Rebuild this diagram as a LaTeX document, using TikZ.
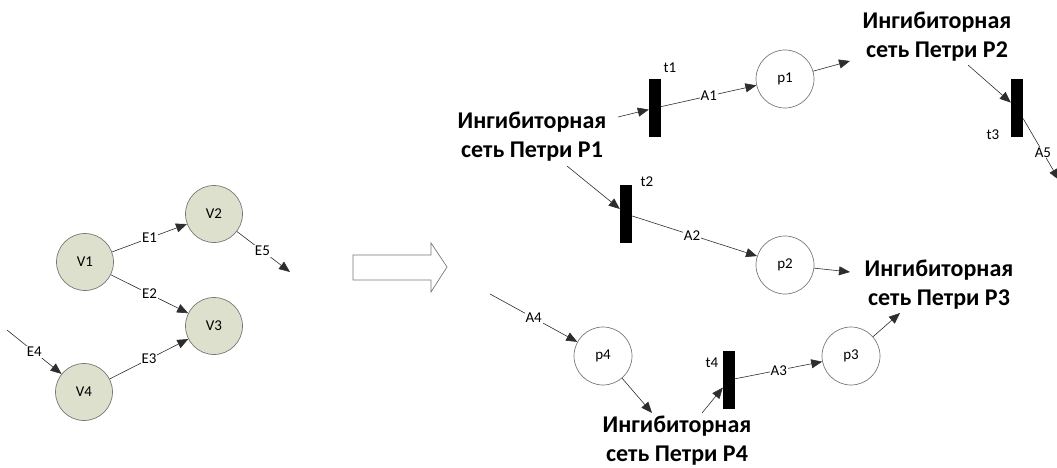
\documentclass[tikz,border=0pt]{standalone}
\usepackage{fontspec}
\setmainfont{Carlito}
\usetikzlibrary{arrows.meta}
\definecolor{vfill}{RGB}{221,224,204}
\definecolor{rim}{RGB}{120,120,120}
\definecolor{wire}{RGB}{45,45,45}
\begin{document}
\begin{tikzpicture}[x=1pt,y=-1pt,
  lbl/.style={font=\fontsize{15}{17}\selectfont},
  vertex/.style={circle,draw=rim,line width=0.7pt,fill=vfill,minimum size=57pt,inner sep=0pt,lbl},
  place/.style={circle,draw=rim,line width=0.7pt,fill=white,minimum size=58pt,inner sep=0pt,lbl},
  trans/.style={rectangle,fill=black,minimum width=12pt,minimum height=58pt,inner sep=0pt},
  net/.style={align=center,font=\bfseries\fontsize{24}{29}\selectfont},
  arc/.style={draw=wire,line width=0.6pt,-{Triangle[length=11pt,width=9pt]}},
  tag/.style={lbl,fill=white,inner sep=1pt}]
\useasboundingbox (0,0) rectangle (1057,468);

% ---- graph ----
\node[vertex] (V1) at (85,262) {V1};
\node[vertex] (V2) at (214,214) {V2};
\node[vertex] (V3) at (214,326) {V3};
\node[vertex] (V4) at (84,392) {V4};
\coordinate (e4s) at (7,330);
\coordinate (e5e) at (290,272);

\draw[arc] (V1) -- node[tag] {E1} (V2);
\draw[arc] (V1) -- node[tag] {E2} (V3);
\draw[arc] (V4) -- node[tag] {E3} (V3);
\draw[arc] (e4s) -- node[tag] {E4} (V4);
\draw[arc] (V2) -- node[tag,pos=0.48] {E5} (e5e);

% ---- transformation arrow ----
\draw[rim,line width=0.7pt,fill=white] (353,255) -- (431,255) -- (431,243) -- (447,267)
  -- (431,292) -- (431,280) -- (353,280) -- cycle;

% ---- Petri nets ----
\node[trans] (t1) at (655,108) {};
\node[trans] (t2) at (626,214) {};
\node[trans] (t3) at (1017,108) {};
\node[trans] (t4) at (729,380) {};
\node[lbl] at (670,68) {t1};
\node[lbl] at (647,182) {t2};
\node[lbl] at (993,135) {t3};
\node[lbl] at (712,363) {t4};

\node[place] (p1) at (785,79) {p1};
\node[place] (p2) at (785,265) {p2};
\node[place] (p3) at (851,356) {p3};
\node[place] (p4) at (603,356) {p4};

\node[net] (P1) at (532,137) {Ингибиторная\\сеть Петри P1};
\node[net] (P2) at (937,37) {Ингибиторная\\сеть Петри P2};
\node[net] (P3) at (939,285) {Ингибиторная\\сеть Петри P3};
\node[net] (P4) at (677,441) {Ингибиторная\\сеть Петри P4};

\coordinate (in1) at (618,117);
\coordinate (in2) at (567,166);
\coordinate (in3) at (968,65);
\coordinate (in4) at (702,413);
\coordinate (out1) at (850,61);
\coordinate (out2) at (850,272);
\coordinate (out3) at (900,313);
\coordinate (out4) at (652,413);
\coordinate (a4s) at (490,294);
\coordinate (a5e) at (1059,180);

\draw[arc] (in1) -- (t1);
\draw[arc] (t1) -- node[tag] {A1} (p1);
\draw[arc] (p1) -- (out1);
\draw[arc] (in3) -- (t3);
\draw[arc] (t3) -- node[tag,pos=0.55] {A5} (a5e);
\draw[arc] (in2) -- (t2);
\draw[arc] (t2) -- node[tag,pos=0.48] {A2} (p2);
\draw[arc] (p2) -- (out2);
\draw[arc] (a4s) -- node[tag] {A4} (p4);
\draw[arc] (p4) -- (out4);
\draw[arc] (in4) -- (t4);
\draw[arc] (t4) -- node[tag] {A3} (p3);
\draw[arc] (p3) -- (out3);
\end{tikzpicture}
\end{document}
